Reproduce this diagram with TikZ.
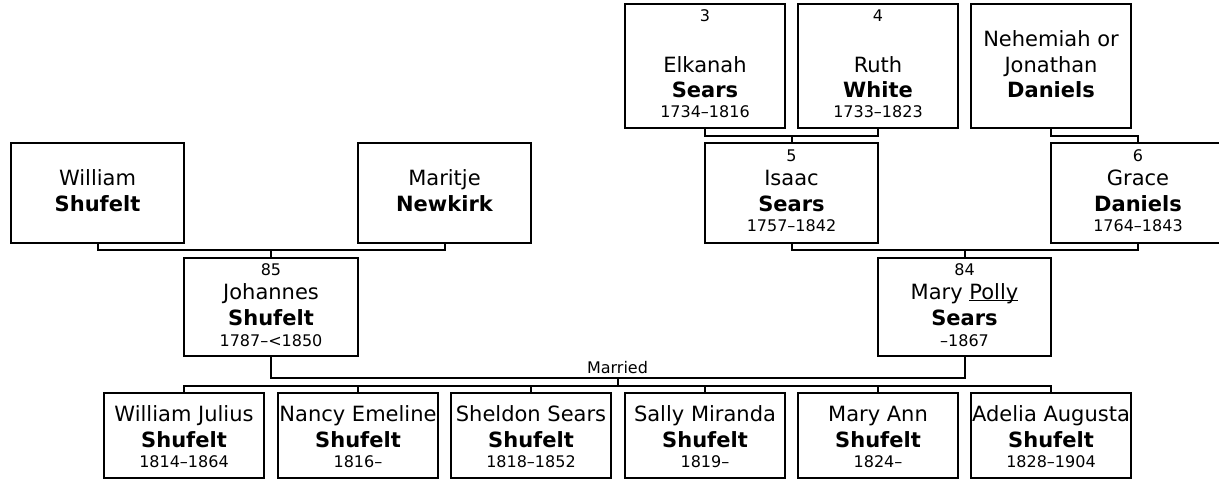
\documentclass[tikz,border=0pt]{standalone}
\usepackage{fontspec}
\setmainfont{DejaVu Sans}
\usetikzlibrary{positioning}
\tikzset{
  box/.style={draw,line width=2pt,outer sep=0pt,inner sep=0pt},
  gg/.style={box,minimum width=160,minimum height=124},
  gp/.style={box,minimum width=173.5,minimum height=100},
  pa/.style={box,minimum width=173.5,minimum height=98},
  kid/.style={box,minimum width=160,minimum height=85},
  link/.style={line width=2pt},
  nm/.style={font=\fontsize{21}{25}\selectfont,anchor=base,inner sep=0pt},
  sn/.style={font=\fontsize{21}{25}\selectfont\bfseries,anchor=base,inner sep=0pt},
  yr/.style={font=\fontsize{16}{19}\selectfont,anchor=base,inner sep=0pt}
}
\newcommand{\tline}[5]{\node[#1] (#2) at ([yshift=-#4]#3.north) {#5};}
\newcommand{\lowline}[1]{\setbox0\hbox{#1}\rlap{\rule[-2pt]{\wd0}{1.2pt}}#1}
\begin{document}
\begin{tikzpicture}[x=1pt,y=-1pt]
\useasboundingbox (0,0) rectangle (1219,479);
% great-grandparents
\node[gg] (elk) at (705,66) {};
\tline{yr}{elk-n}{elk}{17}{3}\tline{nm}{elk-g}{elk}{68.5}{Elkanah}
\tline{sn}{elk-s}{elk}{93.5}{Sears}\tline{yr}{elk-d}{elk}{113}{1734--1816}
\node[gg] (ruth) at (878,66) {};
\tline{yr}{ruth-n}{ruth}{17}{4}\tline{nm}{ruth-g}{ruth}{68.5}{Ruth}
\tline{sn}{ruth-s}{ruth}{93.5}{White}\tline{yr}{ruth-d}{ruth}{113}{1733--1823}
\node[gg] (neh) at (1051,66) {};
\tline{nm}{neh-g}{neh}{42}{Nehemiah or}\tline{nm}{neh-h}{neh}{68.5}{Jonathan}
\tline{sn}{neh-s}{neh}{93.5}{Daniels}
% grandparents
\node[gp] (will) at (97.5,193) {};
\tline{nm}{will-g}{will}{42.5}{William}\tline{sn}{will-s}{will}{68.5}{Shufelt}
\node[gp] (mar) at (444.5,193) {};
\tline{nm}{mar-g}{mar}{42.5}{Maritje}\tline{sn}{mar-s}{mar}{68.5}{Newkirk}
\node[gp] (isaac) at (791.5,193) {};
\tline{yr}{isaac-n}{isaac}{18}{5}\tline{nm}{isaac-g}{isaac}{42.5}{Isaac}
\tline{sn}{isaac-s}{isaac}{68.5}{Sears}\tline{yr}{isaac-d}{isaac}{88.5}{1757--1842}
\node[gp] (grace) at (1138,193) {};
\tline{yr}{grace-n}{grace}{18}{6}\tline{nm}{grace-g}{grace}{42.5}{Grace}
\tline{sn}{grace-s}{grace}{68.5}{Daniels}\tline{yr}{grace-d}{grace}{88.5}{1764--1843}
% parents
\node[pa] (joh) at (271,307) {};
\tline{yr}{joh-n}{joh}{17}{85}\tline{nm}{joh-g}{joh}{41}{Johannes}
\tline{sn}{joh-s}{joh}{67}{Shufelt}\tline{yr}{joh-d}{joh}{88}{1787--<1850}
\node[pa] (mary) at (964.5,307) {};
\tline{yr}{mary-n}{mary}{17}{84}\tline{nm}{mary-g}{mary}{41}{Mary \lowline{Polly}}
\tline{sn}{mary-s}{mary}{67}{Sears}\tline{yr}{mary-d}{mary}{88}{--1867}
% children
\foreach \i/\x/\g/\d in {1/184/William Julius/1814--1864,2/358/Nancy Emeline/1816--,3/531/Sheldon Sears/1818--1852,4/705/Sally Miranda/1819--,5/878/Mary Ann/1824--,6/1051/Adelia Augusta/1828--1904}{
  \node[kid] (c\i) at (\x,435.5) {};
  \tline{nm}{c\i-g}{c\i}{28.7}{\g}\tline{sn}{c\i-s}{c\i}{54.3}{Shufelt}\tline{yr}{c\i-d}{c\i}{74.3}{\d}
}
% links
\draw[link] (elk.south) -- ++(0,7.5) -| (ruth.south);\draw[link] (isaac.north) -- ++(0,-7.5);
\draw[link] (neh.south) -- ++(0,7.5) -| (grace.north);
\draw[link] (will.south) -- ++(0,7) -| (mar.south);\draw[link] (joh.north) -- ++(0,-8);
\draw[link] (isaac.south) -- ++(0,7) -| (grace.south);\draw[link] (mary.north) -- ++(0,-8);
\coordinate (wed) at (617.5,378);\coordinate (kids) at (617.5,385.7);
\node[yr] (married) at (617.5,373.3) {Married};
\draw[link] (joh.south) |- (wed) -| (mary.south);
\draw[link] (wed) -- (kids);
\draw[link] (c1.north) |- (kids) -| (c6.north);
\foreach \c in {c2,c3,c4,c5}{\draw[link] (\c.north) -- (\c.north |- kids);}
\end{tikzpicture}
\end{document}
